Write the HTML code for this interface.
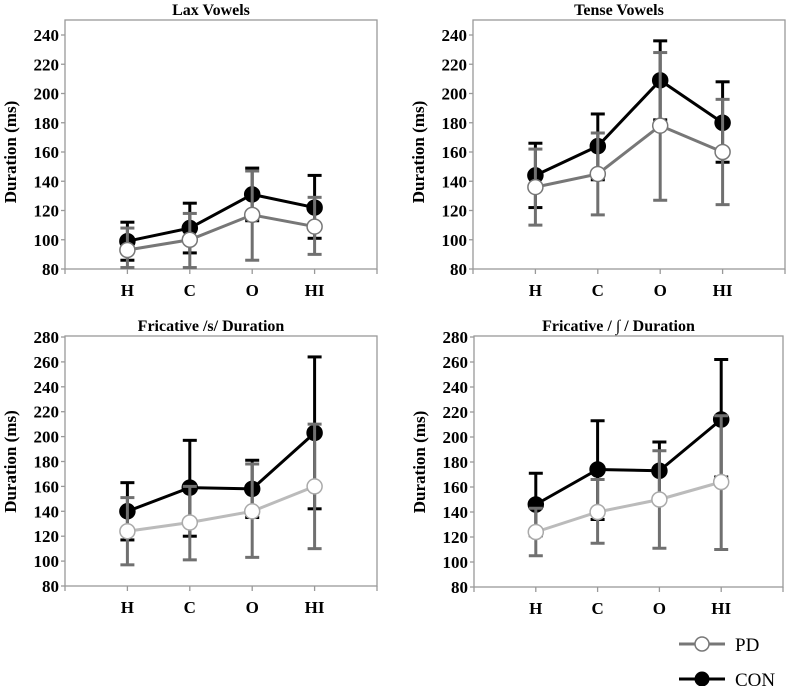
<!DOCTYPE html>
<html><head><meta charset="utf-8"><style>
body{margin:0;background:#fff;}
svg{display:block;}
text{font-family:"Liberation Serif","DejaVu Serif",serif;}
</style></head><body>
<svg id="chart" width="788" height="686" viewBox="0 0 788 686" font-family="Liberation Serif, DejaVu Serif, serif"></svg>
<script>
const categories = ["H","C","O","HI"];
const laxCon = [99,108,131,122], laxConHi = [112,125,149,144], laxConLo = [86,91,113,101];
const laxPd = [93,100,117,109], laxPdHi = [108,118,147,129], laxPdLo = [81,81,86,90];
const tenseCon = [144,164,209,180], tenseConHi = [166,186,236,208], tenseConLo = [122,141,182,153];
const tensePd = [136,145,178,160], tensePdHi = [162,173,228,196], tensePdLo = [110,117,127,124];
const sCon = [140,159,158,203], sConHi = [163,197,181,264], sConLo = [117,120,135,142];
const sPd = [124,131,140,160], sPdHi = [151,160,178,210], sPdLo = [97,101,103,110];
const shCon = [146,174,173,214], shConHi = [171,213,196,262], shConLo = [121,134,152,168];
const shPd = [124,140,150,164], shPdHi = [143,166,189,217], shPdLo = [105,115,111,110];
const ticksTop = [80,100,120,140,160,180,200,220,240];
const ticksBottom = [80,100,120,140,160,180,200,220,240,260,280];
const titles = ["Lax Vowels","Tense Vowels","Fricative /s/ Duration","Fricative / \u222B / Duration"];

const svg = document.getElementById('chart');
const NS = 'http://www.w3.org/2000/svg';
const FF = '"Liberation Serif", "DejaVu Serif", serif';
function mk(tag, attrs, parent){const e=document.createElementNS(NS,tag);for(const k in attrs)e.setAttribute(k,attrs[k]);if(tag==='text')e.style.fontFamily=FF;(parent||svg).appendChild(e);return e;}

function panel(name, title, L, R, yBot, yTop, vMin, vMax, ticks, frameTop, con, conHi, conLo, pd, pdHi, pdLo, pdLine){
  const g = mk('g',{});
  
  
  const y = v => yBot - (v - vMin) / (vMax - vMin) * (yBot - yTop);
  const x = i => L + (i + 1) * (R - L) / 5;
  const fr = mk('rect',{x:L,y:frameTop,width:R-L,height:yBot-frameTop,fill:'none',stroke:'#999','stroke-width':1.3},g);
  
  
  const t = mk('text',{x:(L+R)/2-10,y:frameTop-5,'text-anchor':'middle','font-size':16,'font-weight':'bold'},g);
  t.textContent = title;
  
  
  ticks.forEach(v=>{
    mk('line',{x1:L-4,x2:L,y1:y(v),y2:y(v),stroke:'#999','stroke-width':1.3},g);
    const tl = mk('text',{x:L-6,y:y(v)+6,'text-anchor':'end','font-size':17,'font-weight':'bold'},g);
    tl.textContent = v;
    
    
  });
  for(let i=0;i<=5;i++) mk('line',{x1:L+i*(R-L)/5,x2:L+i*(R-L)/5,y1:yBot,y2:yBot+5,stroke:'#999','stroke-width':1.3},g);
  categories.forEach((c,i)=>{
    const xl = mk('text',{x:x(i),y:yBot+27,'text-anchor':'middle','font-size':17,'font-weight':'bold'},g);
    xl.textContent = c;
    
    
  });
  const yt = mk('text',{x:0,y:0,'text-anchor':'middle','font-size':17,'font-weight':'bold',transform:`translate(${L-49},${(yBot+yTop)/2}) rotate(-90)`},g);
  yt.textContent = 'Duration (ms)';
  
  
  function series(vals, hi, lo, lineCol, errCol, fill, stroke, sname){
    const sg = mk('g',{},g);
    
    
    vals.forEach((v,i)=>{
      mk('line',{x1:x(i),x2:x(i),y1:y(hi[i]),y2:y(lo[i]),stroke:errCol,'stroke-width':3},sg);
      mk('line',{x1:x(i)-7,x2:x(i)+7,y1:y(hi[i]),y2:y(hi[i]),stroke:errCol,'stroke-width':3},sg);
      mk('line',{x1:x(i)-7,x2:x(i)+7,y1:y(lo[i]),y2:y(lo[i]),stroke:errCol,'stroke-width':3},sg);
    });
    mk('polyline',{points:vals.map((v,i)=>x(i)+','+y(v)).join(' '),fill:'none',stroke:lineCol,'stroke-width':3},sg);
    vals.forEach((v,i)=>{
      const c = mk('circle',{cx:x(i),cy:y(v),r:7.5,fill:fill,stroke:stroke,'stroke-width':1.5},sg);
      
      
    });
  }
  series(con, conHi, conLo, '#000', '#000', '#000', '#000', 'con-series');
  series(pd, pdHi, pdLo, pdLine, '#707070', '#fff', pdLine === '#777' ? '#777' : '#aaa', 'pd-series');
}

panel('panel-lax-vowels', titles[0], 65, 377, 269, 35, 80, 240, ticksTop, 20, laxCon, laxConHi, laxConLo, laxPd, laxPdHi, laxPdLo, '#777');
panel('panel-tense-vowels', titles[1], 473, 785, 269, 35, 80, 240, ticksTop, 20, tenseCon, tenseConHi, tenseConLo, tensePd, tensePdHi, tensePdLo, '#777');
panel('panel-fricative-s', titles[2], 65, 377, 586, 337, 80, 280, ticksBottom, 336, sCon, sConHi, sConLo, sPd, sPdHi, sPdLo, '#bbb');
panel('panel-fricative-sh', titles[3], 474, 783, 587, 337, 80, 280, ticksBottom, 336, shCon, shConHi, shConLo, shPd, shPdHi, shPdLo, '#bbb');

const lg = mk('g',{});


const e1 = mk('g',{},lg);


mk('line',{x1:679,x2:725,y1:644,y2:644,stroke:'#777','stroke-width':3},e1);
mk('circle',{cx:702,cy:644,r:7,fill:'#fff',stroke:'#777','stroke-width':1.5},e1);
const t1 = mk('text',{x:735,y:651,'font-size':19},e1); t1.textContent='PD';
const e2 = mk('g',{},lg);


mk('line',{x1:679,x2:725,y1:679,y2:679,stroke:'#000','stroke-width':3},e2);
mk('circle',{cx:702,cy:679,r:7.5,fill:'#000'},e2);
const t2 = mk('text',{x:735,y:686,'font-size':19},e2); t2.textContent='CON';
</script>
</body></html>
